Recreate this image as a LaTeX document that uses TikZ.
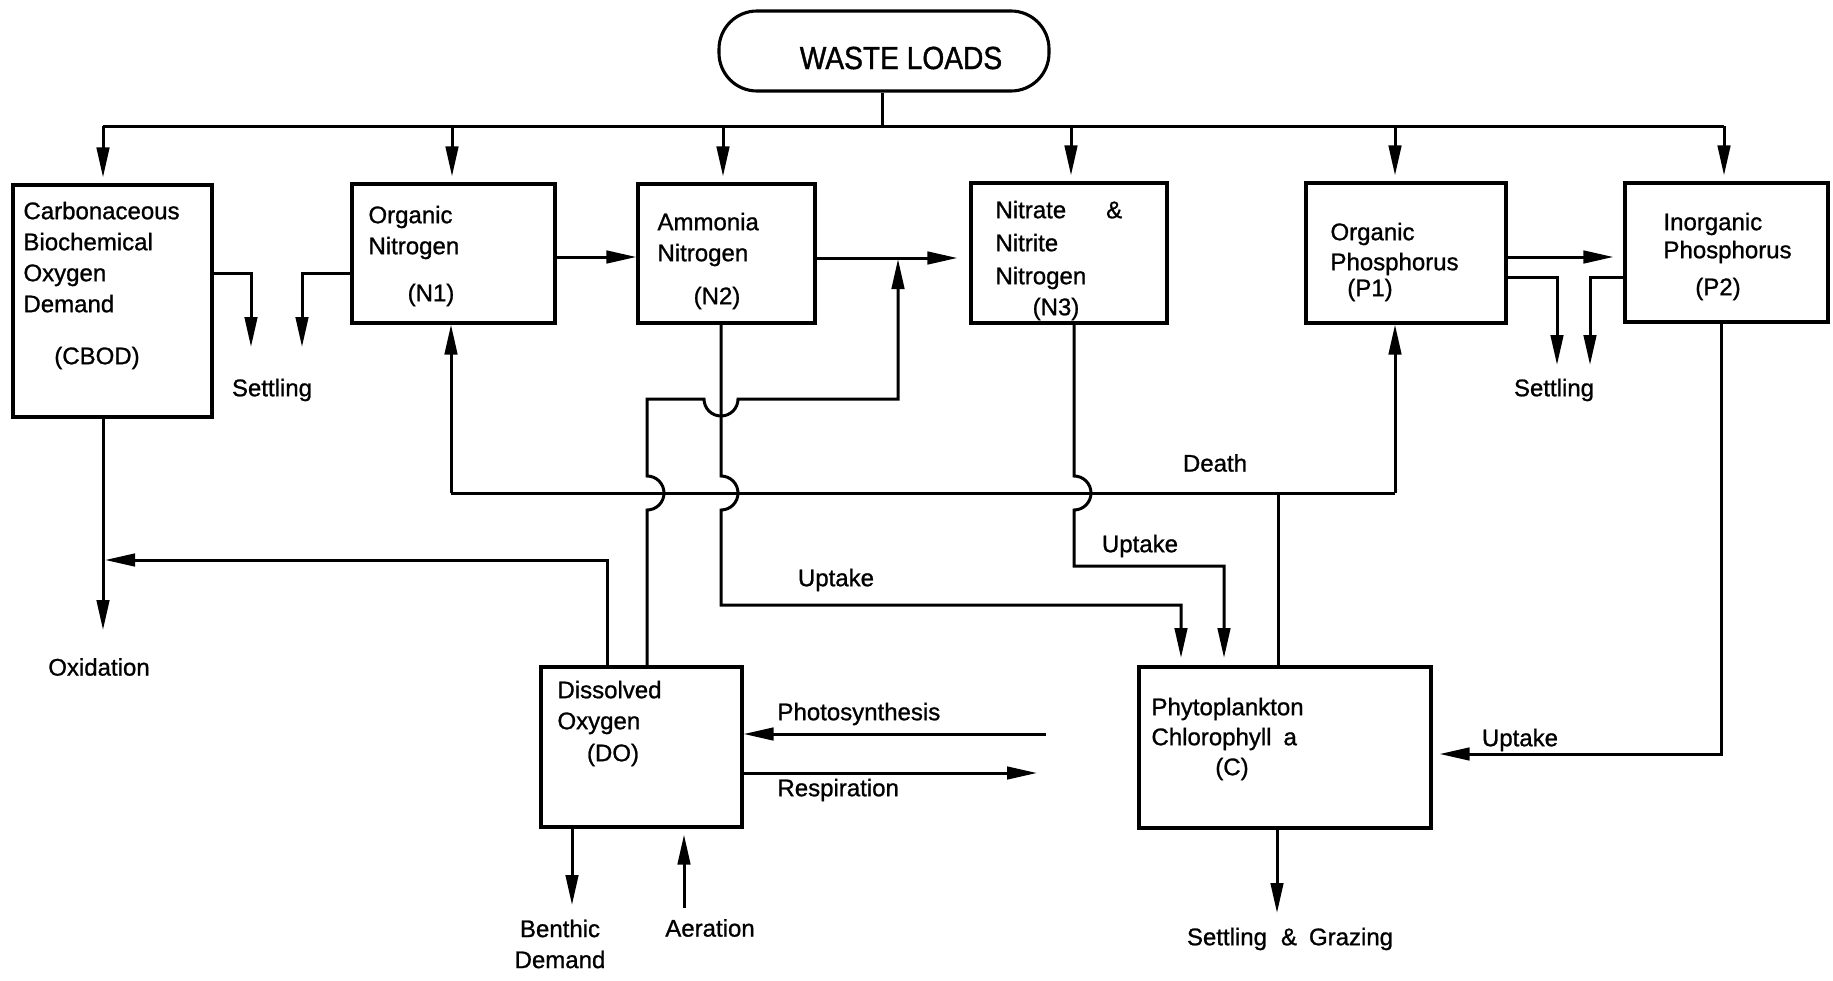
\documentclass[tikz,border=0pt]{standalone}
\usepackage{fontspec}
\setmainfont{Liberation Sans}[FakeBold=1]
\newfontfamily\titlefont[FakeStretch=0.88,FakeBold=1.2]{Liberation Sans}
\usetikzlibrary{arrows.meta}
\begin{document}
\begin{tikzpicture}[x=1pt,y=-1pt,
  line width=3pt, line join=miter,
  box/.style={draw, line width=3.1pt, inner sep=0pt},
  txt/.style={font=\fontsize{24}{31}\selectfont, inner sep=0pt, align=left, anchor=north west},
  lab/.style={font=\fontsize{24}{31}\selectfont, inner sep=0pt, align=center},
  arr/.style={-{Triangle[length=30pt,width=12.5pt]}}]

\useasboundingbox (0,0) rectangle (1833,980);

% ---- boxes ----
\node[box, rounded corners=38pt, minimum width=330pt, minimum height=80pt] (waste) at (884,51) {};
\node[font=\titlefont\fontsize{32}{36}\selectfont, inner sep=0pt] (wastet) at (901,58) {WASTE LOADS};

\node[box, minimum width=199pt, minimum height=232pt] (cbod) at (112.5,301) {};
\node[box, minimum width=203pt, minimum height=139pt] (n1) at (453.5,253.5) {};
\node[box, minimum width=177pt, minimum height=139pt] (n2) at (726.5,253.5) {};
\node[box, minimum width=196pt, minimum height=140pt] (n3) at (1069,253) {};
\node[box, minimum width=200pt, minimum height=140pt] (p1) at (1406,253) {};
\node[box, minimum width=203pt, minimum height=139pt] (p2) at (1726.5,252.5) {};
\node[box, minimum width=201pt, minimum height=160pt] (do) at (641.5,747) {};
\node[box, minimum width=292pt, minimum height=161pt] (phyto) at (1285,747.5) {};

% ---- box texts ----
\node[txt] (cbodt) at (22,196) {\strut Carbonaceous\\Biochemical\\Oxygen\\Demand};
\node[lab] (cbodc) at (97,358) {(CBOD)};
\node[txt] (n1t) at (367,200) {\strut Organic\\Nitrogen};
\node[lab] (n1c) at (431,295) {(N1)};
\node[txt] (n2t) at (656,207) {\strut Ammonia\\Nitrogen};
\node[lab] (n2c) at (717,298) {(N2)};
\node[txt] (n3t) at (994,195) {\strut Nitrate\hspace{40pt}\&\\[2pt]Nitrite\\[2pt]Nitrogen};
\node[lab] (n3c) at (1056,309) {(N3)};
\node[txt] (p1t) at (1329,217) {\strut Organic\\[-1pt]Phosphorus};
\node[lab] (p1c) at (1370,290) {(P1)};
\node[txt] (p2t) at (1662,207) {\strut Inorganic\\[-3pt]Phosphorus};
\node[lab] (p2c) at (1718,289) {(P2)};
\node[txt] (dot) at (556,675) {\strut Dissolved\\Oxygen};
\node[lab] (doc) at (613,755) {(DO)};
\node[txt] (pht) at (1150,692) {\strut Phytoplankton\\[-1pt]Chlorophyll\hspace{12pt}a};
\node[lab] (phc) at (1232,769) {(C)};

% ---- free labels ----
\node[lab] (setl1) at (272,390) {Settling};
\node[lab] (setl2) at (1554,390) {Settling};
\node[lab] (oxid) at (99,667) {Oxidation};
\node[lab] (death) at (1215,463) {Death};
\node[lab] (upt2) at (836,580) {Uptake};
\node[lab] (upt3) at (1140,546) {Uptake};
\node[lab] (uptp) at (1520,740) {Uptake};
\node[lab, anchor=west] (photo) at (776,714) {Photosynthesis};
\node[lab, anchor=west] (resp) at (776,790) {Respiration};
\node[lab] (benth) at (560,944) {Benthic\\Demand};
\node[lab] (aer) at (710,928) {Aeration};
\node[lab] (sgr) at (1290,939) {Settling\hspace{14pt}\&\hspace{12pt}Grazing};

% ---- waste load distribution ----
\coordinate (bus) at (882,126);
\coordinate (busL) at (103,126);
\coordinate (busR) at (1724,126);
\coordinate (t1) at (452,126);
\coordinate (t2) at (723,126);
\coordinate (t3) at (1071,126);
\coordinate (t4) at (1395,126);
\draw (waste.south -| bus) -- (bus);
\draw (busL) -- (busR);
\draw[arr, shorten >=6pt] (busL) -- (busL |- cbod.north);
\draw[arr, shorten >=6pt] (t1) -- (t1 |- n1.north);
\draw[arr, shorten >=6pt] (t2) -- (t2 |- n2.north);
\draw[arr, shorten >=6pt] (t3) -- (t3 |- n3.north);
\draw[arr, shorten >=6pt] (t4) -- (t4 |- p1.north);
\draw[arr, shorten >=6pt] (busR) -- (busR |- p2.north);

% ---- horizontal transfers ----
\coordinate (y12) at (0,257);
\coordinate (nit) at (898,258);
\draw[arr] (n1.east |- y12) -- (n2.west |- y12);
\draw[arr, shorten >=12pt] (n2.east |- nit) -- (n3.west |- nit);
\draw[arr, shorten >=10pt] (p1.east |- y12) -- (p2.west |- y12);

% ---- settling ----
\coordinate (s1y) at (0,273);
\coordinate (s1) at (251,347);
\coordinate (s2) at (302,347);
\draw[arr] (cbod.east |- s1y) -| (s1);
\draw[arr] (n1.west |- s1y) -| (s2);
\coordinate (s3y) at (0,277);
\coordinate (s3) at (1557,365);
\coordinate (s4) at (1590,365);
\draw[arr] (p1.east |- s3y) -| (s3);
\draw[arr] (p2.west |- s3y) -| (s4);

% ---- oxidation ----
\coordinate (ox) at (103,630);
\draw[arr] (cbod.south -| ox) -- (ox);
\coordinate (oxy) at (103,560);
\coordinate (dox) at (607,0);
\draw[arr, shorten >=2pt] (do.north -| dox) |- (oxy);

% ---- nitrification (DO) ----
\coordinate (dn) at (647,0);
\draw[arr, shorten >=1pt] (do.north -| dn) -- (647,510) arc[start angle=90, end angle=-90, radius=17]
  -- (647,399) -- (704,399) arc[start angle=180, end angle=0, radius=17] -- (898,399) -- (nit);

% ---- uptake of N2 and N3 ----
\coordinate (n2x) at (721,0);
\coordinate (u2) at (1181,658);
\draw[arr] (n2.south -| n2x) -- (721,476) arc[start angle=-90, end angle=90, radius=17]
  -- (721,605) -| (u2);
\coordinate (n3x) at (1074,0);
\coordinate (u3) at (1224,658);
\draw[arr] (n3.south -| n3x) -- (1074,476) arc[start angle=-90, end angle=90, radius=17]
  -- (1074,566) -| (u3);

% ---- death ----
\coordinate (dL) at (451,493);
\coordinate (dR) at (1395,493);
\coordinate (dC) at (1278,493);
\draw (phyto.north -| dC) -- (dC);
\draw (dL) -- (dR);
\draw[arr] (dL) -- (n1.south -| dL);
\draw[arr] (dR) -- (p1.south -| dR);

% ---- DO exchanges ----
\coordinate (ph) at (1046,734);
\draw[arr] (ph) -- (do.east |- ph);
\coordinate (rs) at (1037,773);
\draw[arr] (do.east |- rs) -- (rs);
\coordinate (bn) at (572,905);
\draw[arr] (do.south -| bn) -- (bn);
\coordinate (ae) at (684,908);
\draw[arr, shorten >=6pt] (ae) -- (do.south -| ae);

% ---- phytoplankton ----
\coordinate (p2x) at (1721,754);
\draw[arr, shorten >=7pt] (p2.south -| p2x) |- (phyto.east |- p2x);
\coordinate (sg) at (1277,913);
\draw[arr] (phyto.south -| sg) -- (sg);

\end{tikzpicture}
\end{document}
